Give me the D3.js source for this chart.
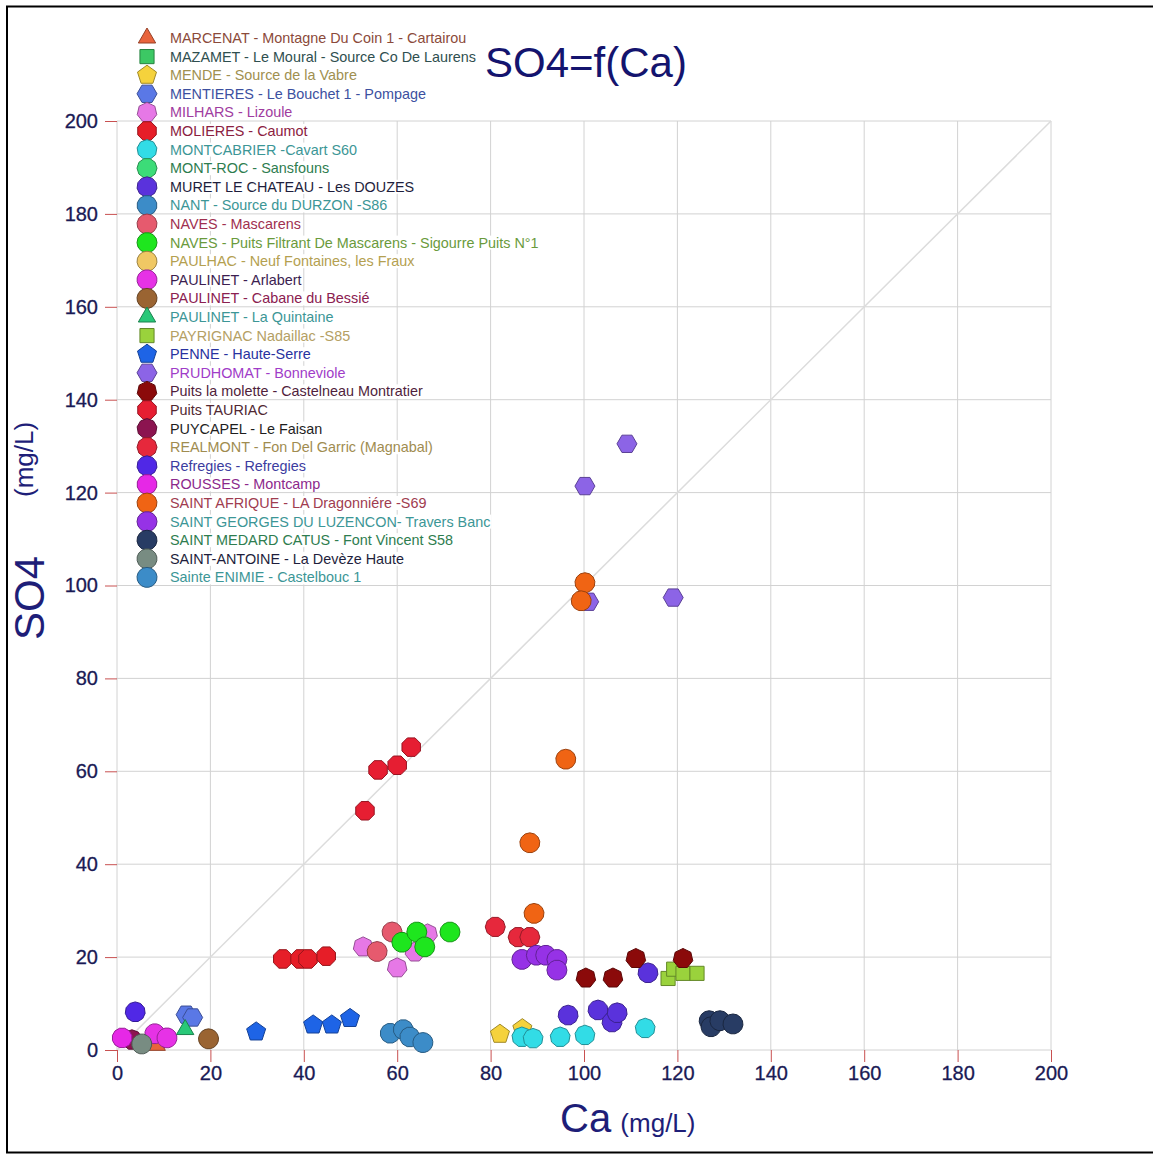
<!DOCTYPE html>
<html>
<head>
<meta charset="utf-8">
<script src="https://cdn.jsdelivr.net/npm/d3@7"></script>
<style>
  body { margin: 0; background: #fff; }
  svg text { font-family: "Liberation Sans", Arial, sans-serif; }
</style>
</head>
<body>
<div id="chart"></div>
<script>
// station names, in legend order
var seriesNames = [
  "MARCENAT - Montagne Du Coin 1 - Cartairou",
  "MAZAMET - Le Moural - Source Co De Laurens",
  "MENDE - Source de la Vabre",
  "MENTIERES - Le Bouchet 1 - Pompage",
  "MILHARS - Lizoule",
  "MOLIERES - Caumot",
  "MONTCABRIER -Cavart S60",
  "MONT-ROC - Sansfouns",
  "MURET LE CHATEAU - Les DOUZES",
  "NANT - Source du DURZON -S86",
  "NAVES - Mascarens",
  "NAVES - Puits Filtrant De Mascarens - Sigourre Puits N°1",
  "PAULHAC - Neuf Fontaines, les Fraux",
  "PAULINET - Arlabert",
  "PAULINET - Cabane du Bessié",
  "PAULINET - La Quintaine",
  "PAYRIGNAC Nadaillac -S85",
  "PENNE - Haute-Serre",
  "PRUDHOMAT - Bonneviole",
  "Puits la molette - Castelneau Montratier",
  "Puits TAURIAC",
  "PUYCAPEL - Le Faisan",
  "REALMONT -  Fon Del Garric (Magnabal)",
  "Refregies - Refregies",
  "ROUSSES - Montcamp",
  "SAINT AFRIQUE - LA Dragonniére -S69",
  "SAINT GEORGES DU LUZENCON- Travers Banc",
  "SAINT MEDARD CATUS - Font Vincent S58",
  "SAINT-ANTOINE - La Devèze Haute",
  "Sainte ENIMIE - Castelbouc 1"
];

var markerColors = [
  "#e8643c", "#3cc864", "#f5d23c", "#5a78e6", "#e678e6", "#e61e28",
  "#32dce6", "#3cdc78", "#5a32dc", "#3c8cc8", "#e65a6e", "#1ee61e",
  "#f0c864", "#e632e6", "#9a6432", "#28c878", "#9ad23c", "#1e64e6",
  "#8c64e6", "#8b0a0a", "#e61e32", "#8c1450", "#e6283c", "#5028e6",
  "#e628e6", "#f06414", "#9632e6", "#283c64", "#788c82", "#3c8cc8"
];

var labelColors = [
  "#8b4a3a", "#2f4f4f", "#a09050", "#3c50a0", "#a03ca0", "#8b2040",
  "#3c9696", "#2e7d4f", "#1e1e3c", "#3c9696", "#a03050", "#6a9a3c",
  "#b4a050", "#3c1e50", "#8b2050", "#3c9696", "#b4a064", "#2832a0",
  "#a03cc8", "#501e3c", "#502832", "#1e1e1e", "#a08c50", "#3c3ca0",
  "#8c288c", "#a03c50", "#3c9696", "#2e7d4f", "#1e1e3c", "#3c9696"
];

// Ca (mg/L) per station
var caValues = [
  [8.5],
  [],
  [82.0, 86.8],
  [14.8, 16.2],
  [52.7, 60.0, 63.8, 66.5],
  [35.5, 39.2, 40.9, 44.8],
  [86.7, 89.1, 94.9, 100.2, 113.1],
  [],
  [96.6, 103.0, 106.0, 107.1, 113.7],
  [58.5, 61.3, 62.7],
  [58.9, 55.7],
  [61.0, 64.2, 65.9, 71.3],
  [],
  [8.1, 10.7],
  [19.6],
  [14.6],
  [118.0, 119.2, 121.2, 124.2],
  [29.8, 42.0, 46.0, 49.9],
  [109.2, 100.2, 101.0, 119.1],
  [100.4, 106.2, 111.1, 121.2],
  [53.1, 55.9, 60.0, 63.0],
  [3.2],
  [81.0, 85.9, 88.4],
  [3.9],
  [1.1],
  [100.2, 99.4, 96.1, 88.4, 89.3],
  [86.7, 89.8, 91.8, 94.2, 94.2],
  [126.8, 127.2, 129.1, 131.9],
  [5.3],
  [65.5]
];

// SO4 (mg/L) per station
var so4Values = [
  [1.0],
  [],
  [3.4, 4.6],
  [7.6, 7.0],
  [22.2, 17.7, 21.1, 25.0],
  [19.6, 19.6, 19.6, 20.2],
  [2.8, 2.5, 2.8, 3.2, 4.7],
  [],
  [7.5, 8.6, 6.0, 8.0, 16.6],
  [3.6, 4.4, 2.8],
  [25.4, 21.2],
  [23.2, 25.4, 22.2, 25.4],
  [],
  [3.5, 2.6],
  [2.4],
  [4.4],
  [15.4, 17.4, 16.5, 16.5],
  [3.9, 5.4, 5.4, 6.8],
  [130.5, 121.4, 96.5, 97.4],
  [15.5, 15.5, 19.7, 19.7],
  [51.5, 60.3, 61.3, 65.2],
  [2.2],
  [26.5, 24.3, 24.3],
  [8.2],
  [2.6],
  [100.6, 96.7, 62.6, 44.6, 29.4],
  [19.5, 20.4, 20.4, 19.5, 17.2],
  [6.3, 5.0, 6.3, 5.6],
  [1.3],
  [1.6]
];

var xTicks = [0, 20, 40, 60, 80, 100, 120, 140, 160, 180, 200];
var yTicks = [0, 20, 40, 60, 80, 100, 120, 140, 160, 180, 200];

var width = 1153, height = 1155;
var svg = d3.select("#chart").append("svg")
    .attr("width", width)
    .attr("height", height);

// outer frame (right edge falls outside the picture)
svg.append("rect")
    .attr("x", 7).attr("y", 6.5)
    .attr("width", 1160).attr("height", 1146)
    .attr("fill", "white")
    .attr("stroke", "black")
    .attr("stroke-width", 2);

var x = d3.scaleLinear().domain([0, 200]).range([117, 1051]);
var y = d3.scaleLinear().domain([0, 200]).range([1050, 121]);

// grid
var grid = svg.append("g");
grid.selectAll(".vx").data(xTicks).enter().append("line")
    .attr("x1", d => x(d)).attr("x2", d => x(d))
    .attr("y1", y(0)).attr("y2", y(200))
    .attr("stroke", "#d2d2d2").attr("stroke-width", 1);
grid.selectAll(".hy").data(yTicks).enter().append("line")
    .attr("x1", x(0)).attr("x2", x(200))
    .attr("y1", d => y(d)).attr("y2", d => y(d))
    .attr("stroke", "#d2d2d2").attr("stroke-width", 1);

// 1:1 line
svg.append("line")
    .attr("x1", x(0)).attr("y1", y(0))
    .attr("x2", x(200)).attr("y2", y(200))
    .attr("stroke", "#dcdcdc").attr("stroke-width", 1.5);

// axes (ticks only, red marks)
var xAxis = svg.append("g")
    .attr("transform", "translate(0," + y(0) + ")")
    .call(d3.axisBottom(x).tickValues(xTicks).tickSize(12).tickPadding(4));
var yAxis = svg.append("g")
    .attr("transform", "translate(" + x(0) + ",0)")
    .call(d3.axisLeft(y).tickValues(yTicks).tickSize(12).tickPadding(7));
[xAxis, yAxis].forEach(function(a) {
    a.select(".domain").remove();
    a.selectAll(".tick line").attr("stroke", "#c85050");
    a.selectAll(".tick text")
        .attr("fill", "#1a1a55")
        .attr("stroke", "#1a1a55")
        .attr("stroke-width", 0.3)
        .style("font-size", "20px")
        .style("font-family", "Liberation Sans, Arial, sans-serif");
});

// marker shape: polygons with 3..17 sides, cycling
function shapePath(i, r) {
    var n = 3 + (i % 15);
    var start = (n % 2 === 1) ? -Math.PI / 2 : -Math.PI / 2 + Math.PI / n;
    var pts = [];
    for (var k = 0; k < n; k++) {
        var a = start + k * 2 * Math.PI / n;
        pts.push([r * Math.cos(a), r * Math.sin(a)]);
    }
    return "M" + pts.map(p => p[0].toFixed(2) + "," + p[1].toFixed(2)).join("L") + "Z";
}

// points
var pts = svg.append("g");
seriesNames.forEach(function(name, i) {
    var data = caValues[i].map(function(c, j) { return {ca: c, so4: so4Values[i][j]}; });
    pts.selectAll(".s" + i).data(data).enter().append("path")
        .attr("d", shapePath(i, 10))
        .attr("transform", d => "translate(" + x(d.ca) + "," + y(d.so4) + ")")
        .attr("fill", markerColors[i])
        .attr("stroke", d3.color(markerColors[i]).darker(1.2))
        .attr("stroke-width", 1);
});

// legend
var legend = svg.append("g");
seriesNames.forEach(function(name, i) {
    var cy = 38 + i * 18.6;
    var t = legend.append("text")
        .attr("x", 170).attr("y", cy + 5)
        .attr("fill", labelColors[i])
        .style("font-size", "14.4px")
        .text(name);
    var bb = t.node().getBBox();
    legend.insert("rect", "text")
        .attr("x", bb.x - 1).attr("y", bb.y + 1)
        .attr("width", bb.width + 2).attr("height", bb.height - 2)
        .attr("fill", "white");
    legend.append("path")
        .attr("d", shapePath(i, 10))
        .attr("transform", "translate(147," + cy + ")")
        .attr("fill", markerColors[i])
        .attr("stroke", d3.color(markerColors[i]).darker(1.2))
        .attr("stroke-width", 1);
});

// title
svg.append("text")
    .attr("x", 485).attr("y", 77)
    .attr("fill", "#14146e")
    .style("font-size", "42px")
    .text("SO4=f(Ca)");

// x label
var xl = svg.append("text")
    .attr("x", 560).attr("y", 1132)
    .attr("fill", "#1e1e78");
xl.append("tspan").style("font-size", "40px").text("Ca");
xl.append("tspan").style("font-size", "26px").attr("dx", 2).text(" (mg/L)");

// y label: "SO4" and its unit sit apart
svg.append("text")
    .attr("transform", "translate(44,640) rotate(-90)")
    .attr("fill", "#1e1e78")
    .style("font-size", "42px")
    .text("SO4");
svg.append("text")
    .attr("transform", "translate(33,497) rotate(-90)")
    .attr("fill", "#1e1e78")
    .style("font-size", "26px")
    .text("(mg/L)");
</script>
</body>
</html>
